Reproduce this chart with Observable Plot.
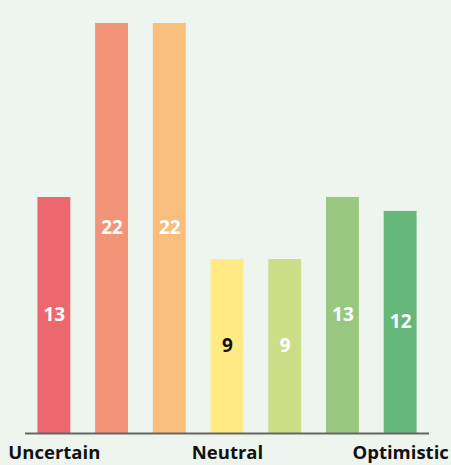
<!DOCTYPE html>
<html>
<head>
<meta charset="utf-8">
<script src="https://cdn.jsdelivr.net/npm/d3@7"></script>
<script src="https://cdn.jsdelivr.net/npm/@observablehq/plot@0.6"></script>
<style>
  html, body { margin: 0; padding: 0; background: #eef5ee; }
  #chart svg { display: block; }
</style>
</head>
<body>
<div id="chart"></div>
<script>
const categories = ["c1", "c2", "c3", "c4", "c5", "c6", "c7"];
const values = [12.86, 22.34, 22.34, 9.48, 9.48, 12.86, 12.1];
const labels = ["13", "22", "22", "9", "9", "13", "12"];
const colors = ["#ec676e", "#f29478", "#f9be7c", "#ffea84", "#cddc87", "#98c87f", "#65b87a"];
const labelColors = ["white", "white", "white", "#111", "white", "white", "white"];
const tickLabels = {c1: "Uncertain", c4: "Neutral", c7: "Optimistic"};

const data = categories.map((c, i) => ({cat: c, value: values[i], label: labels[i], color: colors[i], lc: labelColors[i]}));

const chart = Plot.plot({
  width: 451,
  height: 465,
  marginLeft: 25,
  marginRight: 22,
  marginTop: 23,
  marginBottom: 32,
  style: {background: "#eef5ee", fontFamily: "'Open Sans', sans-serif"},
  x: {domain: categories, paddingInner: 0.43, paddingOuter: 0.215, round: false, label: null, axis: null},
  y: {domain: [0, d3.max(values)], axis: null},
  marks: [
    Plot.barY(data, {x: "cat", y: "value", fill: "color"}),
    Plot.ruleY([0], {stroke: "#666", strokeWidth: 2}),
    Plot.text(data, {x: "cat", y: d => d.value / 2, text: "label", fill: "lc", fontSize: 19, fontWeight: "bold", dy: -1}),
    Plot.axisX({tickSize: 0, tickPadding: 12, tickFormat: d => tickLabels[d] || "", fontSize: 18.5, fontWeight: "bold", fill: "#111", label: null})
  ]
});
document.getElementById("chart").appendChild(chart);
</script>
</body>
</html>
